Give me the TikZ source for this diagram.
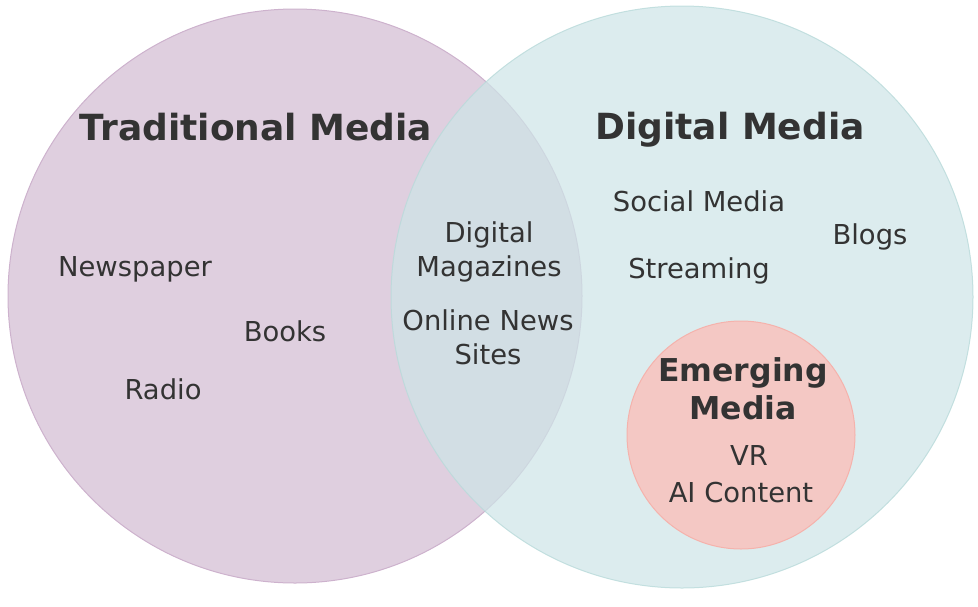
\documentclass[tikz,border=0pt]{standalone}
\usepackage{fontspec}
\setmainfont{DejaVu Sans}
\definecolor{txt}{HTML}{333333}
\definecolor{tradfill}{RGB}{223,207,223}
\definecolor{tradline}{RGB}{205,178,205}
\definecolor{digfill}{RGB}{206,229,231}
\definecolor{digline}{RGB}{185,218,218}
\definecolor{emfill}{RGB}{244,200,196}
\definecolor{emline}{RGB}{245,178,172}
\begin{document}
\begin{tikzpicture}[x=1pt,y=-1pt,
  set/.style={circle, inner sep=0pt, line width=1pt},
  title/.style={font=\fontsize{36}{43}\selectfont\bfseries, text=txt, align=center},
  subtitle/.style={font=\fontsize{31.5}{38}\selectfont\bfseries, text=txt, align=center},
  item/.style={font=\fontsize{27.4}{34}\selectfont, text=txt, align=center}]
\useasboundingbox (0,0) rectangle (978,606);
\node[set, draw=tradline, fill=tradfill, minimum size=574pt] (trad) at (295,296) {};
\node[set, draw=digline, fill=digfill, fill opacity=0.72, draw opacity=0.8, minimum size=582pt] (dig) at (682,297) {};
\node[set, draw=emline, fill=emfill, minimum size=228pt] (em) at (741,435) {};
\node[title] (tradt) at (256,127) {Traditional Media};
\node[title] (digt) at (730,130) {Digital Media};
\node[item] (news) at (135,269) {Newspaper};
\node[item] (books) at (285,331) {Books};
\node[item] (radio) at (163,389) {Radio};
\node[item] (mag) at (489,252) {Digital\\Magazines};
\node[item] (online) at (488,337.5) {Online News\\Sites};
\node[item] (social) at (699,201) {Social Media};
\node[item] (blogs) at (870,237) {Blogs};
\node[item] (stream) at (699,271) {Streaming};
\node[subtitle] (emt) at (743,389) {Emerging\\Media};
\node[item] (vr) at (749,456) {VR};
\node[item] (ai) at (741,493) {AI Content};
\end{tikzpicture}
\end{document}
